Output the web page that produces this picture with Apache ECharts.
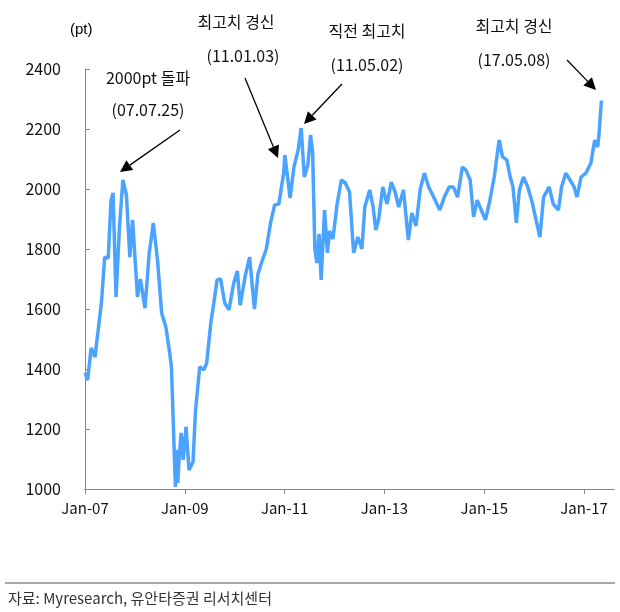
<!DOCTYPE html>
<html>
<head>
<meta charset="utf-8">
<script src="https://cdn.jsdelivr.net/npm/echarts@6/dist/echarts.min.js"></script>
<style>
  html, body { margin: 0; padding: 0; background: #fff; }
  #chart { width: 620px; height: 612px; }
</style>
</head>
<body>
<div id="chart"></div>
<script>
// KOSPI
const dates = [
  '2007-01-02', '2007-01-20', '2007-02-15', '2007-03-15', '2007-04-10', '2007-05-01', '2007-05-25', '2007-06-20',
  '2007-07-10', '2007-07-25', '2007-08-16', '2007-09-10', '2007-10-05', '2007-10-31', '2007-11-25', '2007-12-15',
  '2008-01-20', '2008-02-10', '2008-03-15', '2008-04-15', '2008-05-15', '2008-06-15', '2008-07-15', '2008-08-15',
  '2008-09-10', '2008-09-25', '2008-10-24', '2008-11-01', '2008-11-10', '2008-11-20', '2008-12-05', '2008-12-20',
  '2009-01-10', '2009-02-01', '2009-03-02', '2009-03-20', '2009-04-20', '2009-05-20', '2009-06-10', '2009-07-10',
  '2009-08-01', '2009-08-25', '2009-09-20', '2009-10-20', '2009-11-20', '2009-12-25', '2010-01-20', '2010-02-10',
  '2010-03-20', '2010-04-20', '2010-05-25', '2010-06-20', '2010-07-20', '2010-08-20', '2010-09-20', '2010-10-20',
  '2010-11-20', '2010-12-25', '2011-01-03', '2011-02-10', '2011-03-10', '2011-04-10', '2011-05-02', '2011-05-25',
  '2011-06-20', '2011-07-10', '2011-07-25', '2011-08-10', '2011-08-25', '2011-09-10', '2011-09-25', '2011-10-20',
  '2011-11-10', '2011-11-25', '2011-12-20', '2012-01-20', '2012-02-20', '2012-03-20', '2012-04-20', '2012-05-20',
  '2012-06-20', '2012-07-20', '2012-08-10', '2012-09-15', '2012-10-10', '2012-10-30', '2012-11-20', '2012-12-20',
  '2013-01-20', '2013-02-20', '2013-03-20', '2013-04-15', '2013-05-20', '2013-06-25', '2013-07-20', '2013-08-20',
  '2013-09-20', '2013-10-20', '2013-11-20', '2013-12-20', '2014-01-20', '2014-02-10', '2014-03-15', '2014-04-20',
  '2014-05-20', '2014-06-20', '2014-07-25', '2014-08-20', '2014-09-20', '2014-10-15', '2014-11-10', '2014-12-10',
  '2015-01-10', '2015-02-10', '2015-03-15', '2015-04-20', '2015-05-15', '2015-06-15', '2015-07-10', '2015-07-30',
  '2015-08-24', '2015-09-15', '2015-10-15', '2015-11-15', '2015-12-15', '2016-01-20', '2016-02-12', '2016-03-10',
  '2016-04-20', '2016-05-20', '2016-06-27', '2016-07-20', '2016-08-20', '2016-09-20', '2016-10-20', '2016-11-10',
  '2016-12-10', '2017-01-15', '2017-02-20', '2017-03-20', '2017-04-10', '2017-04-20', '2017-05-08'
];
const kospi = [
  1387, 1363, 1470, 1440, 1540, 1620, 1773, 1770,
  1960, 1987, 1640, 1873, 2030, 1980, 1773, 1897,
  1640, 1700, 1603, 1787, 1887, 1763, 1587, 1540,
  1460, 1407, 1007, 1130, 1020, 1100, 1187, 1097,
  1207, 1063, 1090, 1260, 1407, 1397, 1420, 1553,
  1620, 1697, 1700, 1620, 1597, 1687, 1727, 1613,
  1713, 1773, 1600, 1717, 1760, 1800, 1887, 1947,
  1950, 2053, 2113, 1970, 2073, 2130, 2203, 2040,
  2080, 2180, 2120, 1800, 1753, 1850, 1697, 1930,
  1787, 1860, 1833, 1950, 2030, 2020, 1990, 1787,
  1840, 1800, 1940, 1997, 1940, 1863, 1900, 2007,
  1950, 2023, 1990, 1940, 1997, 1830, 1920, 1877,
  2000, 2053, 2007, 1980, 1950, 1930, 1973, 2007,
  2007, 1973, 2073, 2063, 2030, 1907, 1963, 1930,
  1897, 1960, 2040, 2163, 2107, 2097, 2040, 2007,
  1887, 1997, 2040, 2007, 1960, 1887, 1840, 1973,
  2007, 1950, 1930, 2007, 2053, 2030, 2007, 1973,
  2040, 2053, 2087, 2163, 2140, 2180, 2295
];
const yearTicks = ['Jan-07', 'Jan-09', 'Jan-11', 'Jan-13', 'Jan-15', 'Jan-17'];

function toYear(d) {
  const t = new Date(d + 'T00:00:00Z');
  const y = t.getUTCFullYear();
  const start = Date.UTC(y, 0, 1), end = Date.UTC(y + 1, 0, 1);
  return (y - 2007) + (t - start) / (end - start);
}

const chart = echarts.init(document.getElementById('chart'), null, { renderer: 'canvas' });
const font = 'Malgun Gothic, "Noto Sans CJK KR", sans-serif';

const notes = [
  { text: '2000pt 돌파', x: 148, y: 78, from: [180, 130], to: [120, 172] },
  { text: '(07.07.25)', x: 148, y: 110 },
  { text: '최고치 경신', x: 236, y: 22, from: [245, 78], to: [278, 158] },
  { text: '(11.01.03)', x: 243, y: 56 },
  { text: '직전 최고치', x: 367, y: 31, from: [342, 84], to: [304, 124] },
  { text: '(11.05.02)', x: 367, y: 65 },
  { text: '최고치 경신', x: 514, y: 26, from: [567, 60], to: [596, 90] },
  { text: '(17.05.08)', x: 514, y: 60 }
];
const graphic = [
  { type: 'text', left: 70, top: 22, style: { text: '(pt)', fontSize: 15, fill: '#000', font: '15px ' + font } },
  { type: 'line', shape: { x1: 5, y1: 583, x2: 615, y2: 583 }, style: { stroke: '#555', lineWidth: 1 } },
  { type: 'text', left: 8, top: 591, style: { text: '자료: Myresearch, 유안타증권 리서치센터', font: '15px ' + font, fill: '#333' } }
];
notes.forEach(n => {
  graphic.push({ type: 'text', x: n.x, y: n.y, style: { text: n.text, font: '16px ' + font, fill: '#111', align: 'center', verticalAlign: 'middle' } });
  if (n.from) {
    const dx = n.to[0] - n.from[0], dy = n.to[1] - n.from[1];
    const len = Math.hypot(dx, dy), ux = dx / len, uy = dy / len;
    const bx = n.to[0] - ux * 12, by = n.to[1] - uy * 12;
    graphic.push({ type: 'line', shape: { x1: n.from[0], y1: n.from[1], x2: bx, y2: by }, style: { stroke: '#000', lineWidth: 1.3 } });
    graphic.push({ type: 'polygon', shape: { points: [n.to, [bx - uy * 6, by + ux * 6], [bx + uy * 6, by - ux * 6]] }, style: { fill: '#000' } });
  }
});

chart.setOption({
  animation: false,
  backgroundColor: '#fff',
  grid: { left: 85, right: 6, top: 69, bottom: 123 },
  xAxis: {
    type: 'value', min: 0, max: 10.6, interval: 2,
    axisLine: { lineStyle: { color: '#888' } },
    axisTick: { lineStyle: { color: '#888' }, length: 5 },
    splitLine: { show: false },
    axisLabel: {
      color: '#111', fontSize: 15, fontFamily: font, margin: 12, showMaxLabel: false,
      formatter: v => yearTicks[v / 2] || ''
    }
  },
  yAxis: {
    type: 'value', min: 1000, max: 2400, interval: 200,
    axisLine: { show: true, lineStyle: { color: '#888' } },
    axisTick: { show: true, inside: true, lineStyle: { color: '#888' }, length: 5 },
    splitLine: { show: false },
    axisLabel: { color: '#111', fontSize: 16, fontFamily: font, margin: 24, formatter: v => String(v) }
  },
  series: [{
    type: 'line', showSymbol: false,
    data: dates.map((d, i) => [toYear(d), kospi[i]]),
    lineStyle: { color: '#4aa3ff', width: 3.5 }
  }],
  graphic: graphic
});
</script>
</body>
</html>
